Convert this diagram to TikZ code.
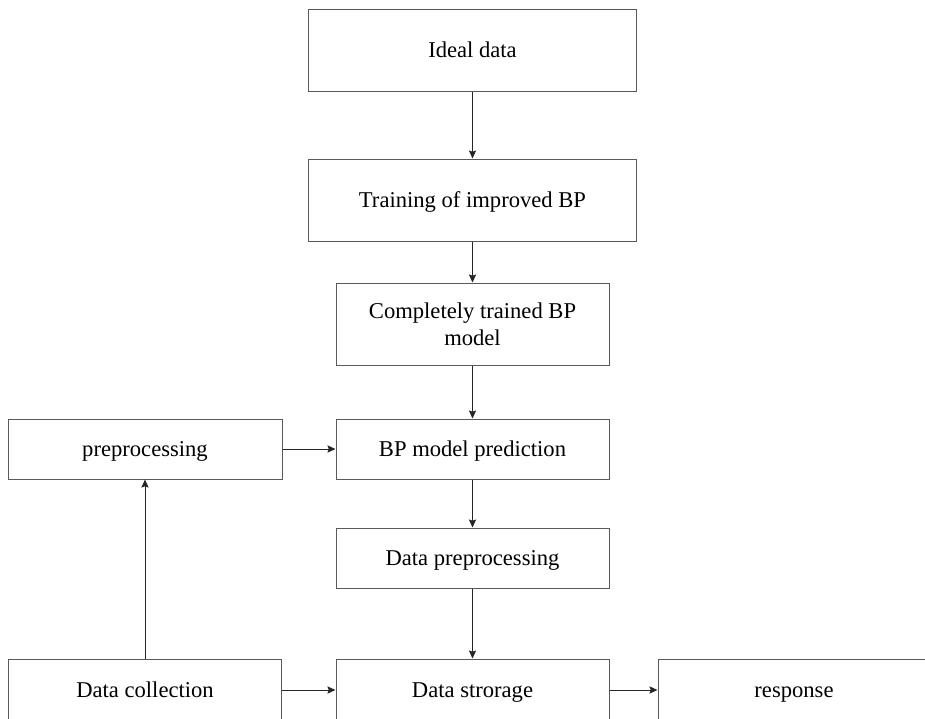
\documentclass[tikz,border=0pt]{standalone}
\usepackage{fontspec}
\setmainfont{Liberation Serif}
\usetikzlibrary{arrows.meta,positioning}

\tikzset{
  stagebox/.style={draw=black!65, line width=0.5pt, inner sep=0pt, align=center,
    font=\fontsize{11.3}{13.5}\selectfont, minimum width=136.5pt, minimum height=30pt},
  oneline/.style={stagebox, text height=9pt, text depth=1.5pt},
  widebox/.style={oneline, minimum width=164pt, minimum height=41pt},
  flow/.style={->, black!85, line width=0.5pt}
}

\begin{document}
\begin{tikzpicture}[>={Stealth[length=4pt,width=3.6pt,inset=0.6pt]}, x=0.5pt, y=-0.5pt]
  \useasboundingbox (0,0) rectangle (925,718);
  \clip (0,0) rectangle (925,718);

  % Training chain
  \node[widebox] (ideal) at (472.5,50) {Ideal data};
  \node[widebox] (train) at (472.5,200) {Training of improved BP};
  \node[stagebox, minimum height=41pt] (trained) at (472.5,324) {Completely trained BP\\model};
  \node[oneline] (predict) at (472.5,449) {BP model prediction};
  \node[oneline] (datapre) at (472.5,558) {Data preprocessing};

  % Left branch
  \node[oneline, minimum width=137pt] (prep) at (145,449) {preprocessing};

  % Bottom row (cut by the page edge)
  \node[oneline, minimum height=31pt] (collect) at (145,690) {Data collection};
  \node[oneline, minimum height=31pt] (storage) at (472.5,690) {Data strorage};
  \node[oneline, minimum width=136pt, minimum height=31pt] (response) at (794,690) {response};

  \draw[flow] (ideal) -- (train);
  \draw[flow] (train) -- (trained);
  \draw[flow] (trained) -- (predict);
  \draw[flow] (prep) -- (predict);
  \draw[flow] (predict) -- (datapre);
  \draw[flow] (datapre) -- (storage);
  \draw[flow] (collect) -- (prep);
  \draw[flow] (collect) -- (storage);
  \draw[flow] (storage) -- (response);
\end{tikzpicture}
\end{document}
